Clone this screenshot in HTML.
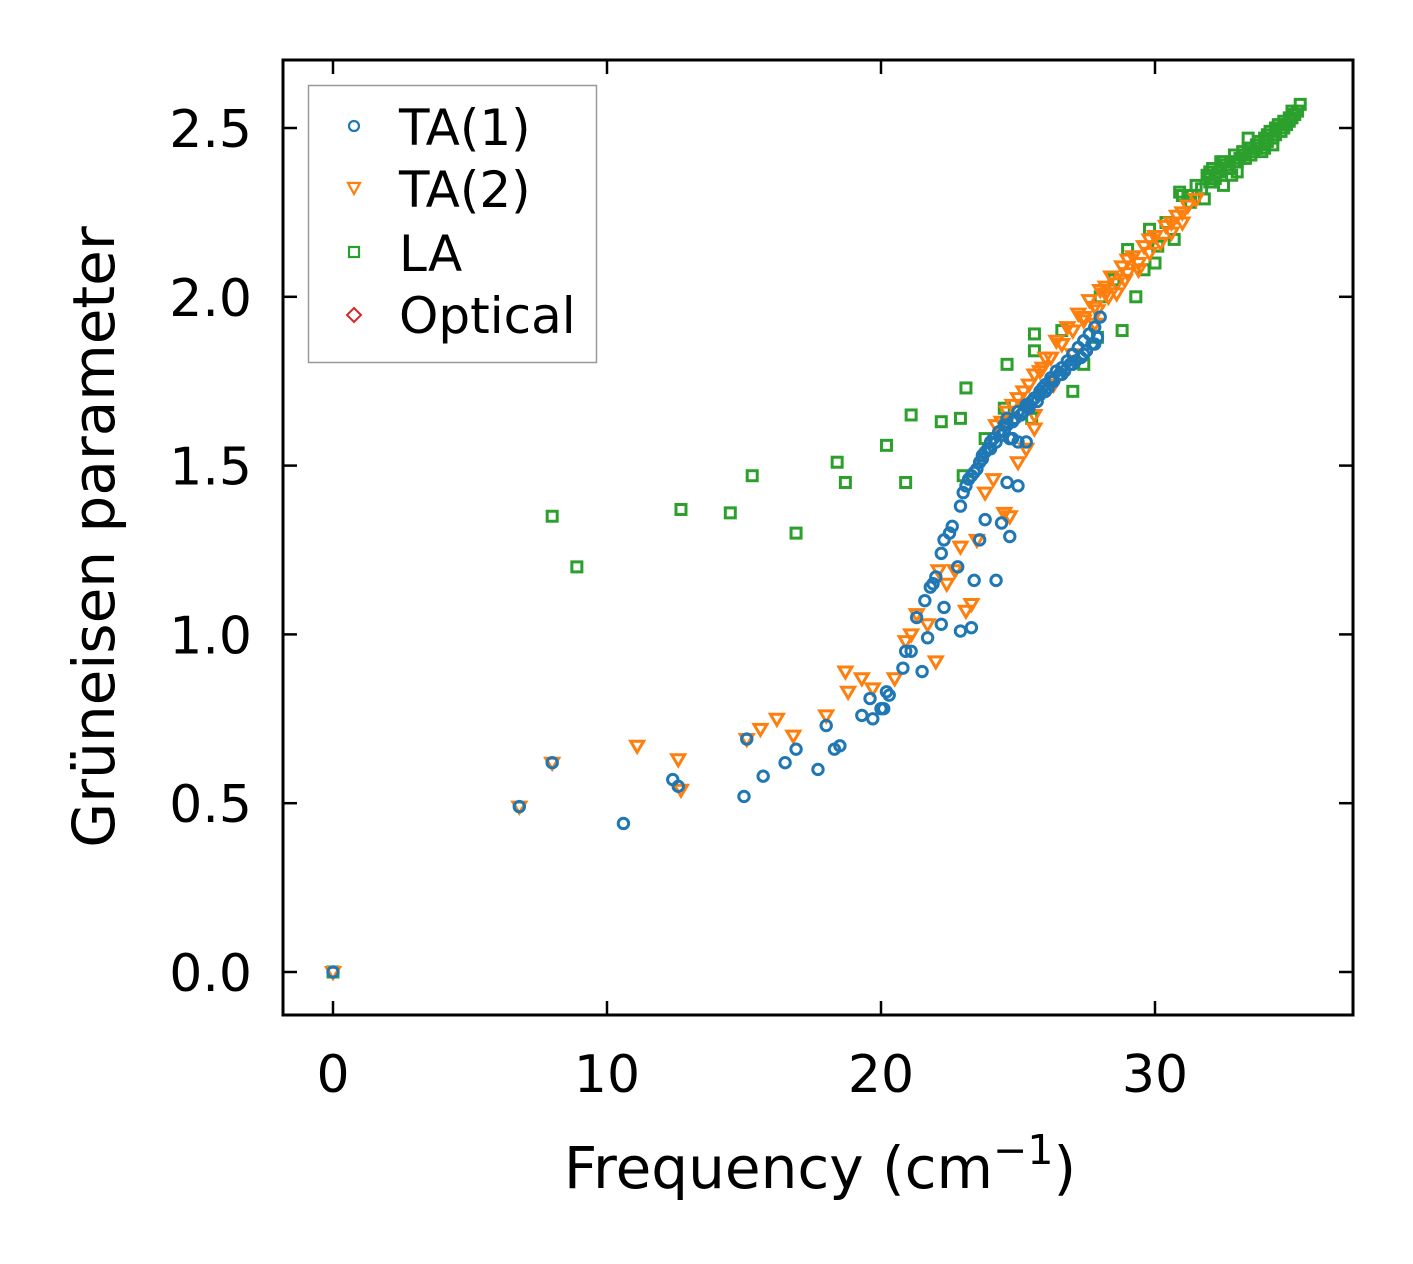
<!DOCTYPE html>
<html><head><meta charset="utf-8"><style>
html,body{margin:0;padding:0;background:#fff;}
svg{display:block;font-family:"DejaVu Sans","Liberation Sans",sans-serif;}
</style></head><body>
<svg id="chart" width="1413" height="1264" viewBox="0 0 1413 1264" xmlns="http://www.w3.org/2000/svg">
<rect x="0" y="0" width="1413" height="1264" fill="#fff"/>
<g id="marks"></g>
<g id="axes"></g>
<text x="820" y="1188" font-size="58" text-anchor="middle">Frequency (cm<tspan dy="-24" font-size="41">−1</tspan><tspan dy="24">)</tspan></text>
<text transform="translate(114,537) rotate(-90)" font-size="58" text-anchor="middle">Grüneisen parameter</text>
<g>
<rect x="308.5" y="85.5" width="288" height="277" fill="#fff" stroke="#999" stroke-width="1.5"/>
<circle cx="354" cy="126" r="5" fill="none" stroke="#1f77b4" stroke-width="2.2"/>
<text x="399" y="145" font-size="50">TA(1)</text>
<path d="M348,183 L360,183 L354,194 Z" fill="none" stroke="#ff7f0e" stroke-width="2.2"/>
<text x="399" y="207" font-size="50">TA(2)</text>
<rect x="349" y="247" width="10" height="10" fill="none" stroke="#2ca02c" stroke-width="2.2"/>
<text x="399" y="271" font-size="50">LA</text>
<path d="M354,308 L361,315 L354,322 L347,315 Z" fill="none" stroke="#d62728" stroke-width="2"/>
<text x="399" y="333" font-size="50">Optical</text>
</g>
</svg>
<script>
const xTicks=[0,10,20,30];
const yTicks=[0.0,0.5,1.0,1.5,2.0,2.5];
const yTickLabels=["0.0","0.5","1.0","1.5","2.0","2.5"];
const ta1X=[0,6.8,8.0,10.6,12.4,12.6,15.0,15.1,15.7,16.5,16.9,17.7,18.0,18.3,18.5,19.3,19.6,19.7,20.0,20.1,20.2,20.3,20.8,20.9,21.1,21.3,21.5,21.6,21.7,21.8,21.9,22.0,22.2,22.2,22.3,22.3,22.5,22.6,22.8,22.9,22.9,23.0,23.1,23.3,23.3,23.4,23.5,23.6,23.7,23.8,23.9,24.0,24.2,24.3,24.4,24.5,24.6,24.6,24.7,24.8,25.0,25.0,25.3,25.4,25.6,25.8,26.0,26.2,26.4,26.6,26.8,27.0,27.2,27.4,27.6,27.8,28.0,23.6,23.8,24.1,24.3,24.6,24.9,25.2,25.5,25.8,26.1,26.5,26.9,27.3,27.7,24.4,24.7,25.0,23.2,23.4,23.7,24.0,24.2,24.5,24.8,25.1,25.4,25.7,26.0,26.3,26.7,27.1,27.5,27.9,25.9,26.2,26.6,27.0,27.4,27.8,25.3,25.6];
const ta1Y=[0,0.49,0.62,0.44,0.57,0.55,0.52,0.69,0.58,0.62,0.66,0.60,0.73,0.66,0.67,0.76,0.81,0.75,0.78,0.78,0.83,0.82,0.90,0.95,0.95,1.05,0.89,1.10,0.99,1.14,1.15,1.17,1.03,1.24,1.08,1.28,1.30,1.32,1.20,1.38,1.01,1.42,1.44,1.02,1.47,1.16,1.49,1.28,1.53,1.34,1.55,1.57,1.16,1.60,1.33,1.62,1.45,1.64,1.29,1.58,1.44,1.66,1.57,1.68,1.70,1.72,1.74,1.76,1.78,1.79,1.81,1.83,1.85,1.87,1.89,1.91,1.94,1.51,1.54,1.58,1.60,1.62,1.64,1.66,1.69,1.71,1.73,1.77,1.80,1.82,1.86,1.59,1.58,1.57,1.46,1.48,1.52,1.55,1.57,1.60,1.63,1.65,1.67,1.69,1.72,1.75,1.78,1.81,1.84,1.88,1.73,1.75,1.77,1.80,1.83,1.86,1.68,1.70];
const ta2X=[0,6.8,8.0,11.1,12.6,12.7,15.1,15.6,16.2,16.8,18.0,18.7,18.8,19.3,19.7,20.5,20.9,21.1,21.3,21.7,22.0,22.1,22.4,22.7,22.9,23.1,23.3,23.5,23.8,24.1,24.5,24.7,25.0,25.3,25.6,24.8,25.2,25.6,26.0,26.4,26.8,27.2,27.6,28.0,28.4,28.8,29.2,29.6,30.0,30.4,30.8,31.2,31.5,25.6,26.3,27.0,27.8,28.6,29.4,24.4,25.9,26.6,27.4,28.2,29.0,29.8,30.6,31.0,24.2,24.6,25.0,25.4,25.8,26.2,26.6,27.0,27.4,27.8,28.2,28.6,29.0,29.4,29.8,30.2,30.6,31.0,27.9,28.3,28.9];
const ta2Y=[0,0.49,0.62,0.67,0.63,0.54,0.69,0.72,0.75,0.70,0.76,0.89,0.83,0.87,0.84,0.87,0.98,1.00,1.06,1.03,0.92,1.19,1.15,1.19,1.26,1.07,1.09,1.28,1.42,1.46,1.36,1.35,1.51,1.55,1.61,1.68,1.72,1.77,1.82,1.87,1.91,1.95,1.99,2.02,2.06,2.09,2.12,2.15,2.18,2.21,2.24,2.27,2.29,1.65,1.74,1.83,1.92,2.01,2.08,1.63,1.79,1.86,1.94,2.03,2.11,2.17,2.22,2.25,1.62,1.66,1.70,1.74,1.78,1.82,1.86,1.90,1.93,1.97,2.01,2.04,2.07,2.10,2.13,2.16,2.19,2.22,1.96,2.00,2.05];
const laX=[0,8.0,8.9,12.7,14.5,15.3,16.9,18.4,18.7,20.2,20.9,21.1,22.2,22.9,23.1,23.0,23.8,24.5,24.6,25.5,25.6,25.6,26.6,27.0,27.4,27.9,28.8,28.0,28.5,29.3,29.6,30.0,30.1,30.4,30.7,31.0,31.3,31.8,32.0,32.3,32.6,32.9,33.2,33.5,33.8,34.1,34.4,34.7,35.0,35.3,29.0,29.8,32.1,32.5,33.0,33.4,33.9,34.3,34.6,32.2,32.8,33.3,33.7,34.0,34.5,34.9,32.4,32.9,33.6,34.2,34.8,35.1,31.5,30.9,31.9,32.0,32.2,32.5,32.7,33.0,33.2,33.5,33.8,34.0,34.3,34.6,34.9,35.2,32.1,32.4,32.7,33.1,33.4,33.7,34.1,34.4,34.7,35.0,31.7,31.2];
const laY=[0,1.35,1.20,1.37,1.36,1.47,1.30,1.51,1.45,1.56,1.45,1.65,1.63,1.64,1.73,1.47,1.58,1.67,1.80,1.64,1.89,1.84,1.90,1.72,1.80,1.88,1.90,2.00,2.05,2.00,2.08,2.10,2.15,2.22,2.17,2.30,2.28,2.29,2.34,2.37,2.39,2.40,2.42,2.44,2.46,2.48,2.50,2.52,2.55,2.57,2.14,2.20,2.38,2.33,2.37,2.47,2.43,2.45,2.49,2.35,2.36,2.41,2.45,2.44,2.51,2.53,2.40,2.42,2.43,2.49,2.51,2.54,2.33,2.31,2.36,2.37,2.36,2.40,2.38,2.40,2.43,2.42,2.45,2.47,2.47,2.50,2.52,2.55,2.34,2.37,2.38,2.41,2.44,2.44,2.46,2.48,2.50,2.53,2.32,2.30];
const optX=[];
const optY=[];

const X0=283,X1=1353,Y0=60,Y1=1015;
function sx(v){return 333+v*27.4;}
function sy(v){return 972-v*337.6;}
const NS="http://www.w3.org/2000/svg";
const marks=document.getElementById('marks');
const axes=document.getElementById('axes');
function mk(tag,attrs,parent){const e=document.createElementNS(NS,tag);for(const k in attrs)e.setAttribute(k,attrs[k]);parent.appendChild(e);return e;}
function circ(x,y){const e=mk('circle',{cx:sx(x),cy:sy(y),r:5.2,fill:'none',stroke:'#1f77b4','stroke-width':3},marks);

}
function tri(x,y){const cx=sx(x),cy=sy(y);const e=mk('path',{d:`M${cx-6.5},${cy-4.5} L${cx+6.5},${cy-4.5} L${cx},${cy+6.5} Z`,fill:'none',stroke:'#ff7f0e','stroke-width':3},marks);

}
function sq(x,y){const e=mk('rect',{x:sx(x)-5,y:sy(y)-5,width:10,height:10,fill:'none',stroke:'#2ca02c','stroke-width':3},marks);

}
function dia(x,y){const cx=sx(x),cy=sy(y);const e=mk('path',{d:`M${cx},${cy-7} L${cx+7},${cy} L${cx},${cy+7} L${cx-7},${cy} Z`,fill:'none',stroke:'#d62728','stroke-width':2},marks);

}
laX.forEach((x,i)=>sq(x,laY[i]));
ta2X.forEach((x,i)=>tri(x,ta2Y[i]));
ta1X.forEach((x,i)=>circ(x,ta1Y[i]));
optX.forEach((x,i)=>dia(x,optY[i]));

const frame=mk('rect',{x:X0,y:Y0,width:X1-X0,height:Y1-Y0,fill:'none',stroke:'#000','stroke-width':3},axes);


xTicks.forEach(t=>{const x=sx(t);
const a=mk('line',{x1:x,y1:Y1,x2:x,y2:Y1-14,stroke:'#000','stroke-width':2.5},axes);


const b=mk('line',{x1:x,y1:Y0,x2:x,y2:Y0+14,stroke:'#000','stroke-width':2.5},axes);


const l=mk('text',{x:x,y:1092,'font-size':52,'text-anchor':'middle'},axes);l.textContent=String(t);

});
yTicks.forEach((t,i)=>{const y=sy(t);
const a=mk('line',{x1:X0,y1:y,x2:X0+14,y2:y,stroke:'#000','stroke-width':2.5},axes);


const b=mk('line',{x1:X1,y1:y,x2:X1-14,y2:y,stroke:'#000','stroke-width':2.5},axes);


const l=mk('text',{x:252,y:y+19,'font-size':52,'text-anchor':'end'},axes);l.textContent=yTickLabels[i];

});
</script>
</body></html>
